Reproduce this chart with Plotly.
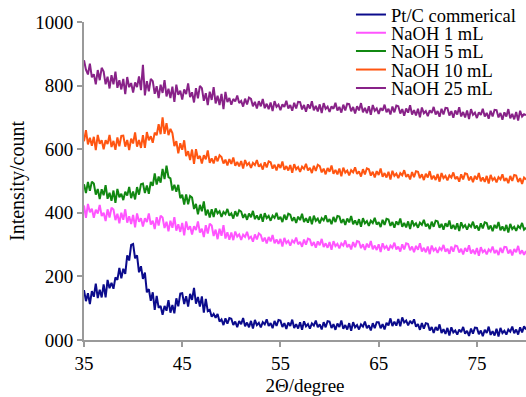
import plotly.graph_objects as go

x_start = 35.0
x_step = 0.2

pt_c = [157,122,147,113,154, 136,177,132,158,134, 175,134,189,163,180, 161,197,189,227,194,
        224,208,266,250,299, 302,257,266,213,232, 192,212,150,160,123, 150,95,139,101,107,
        79,107,92,125,86, 110,84,131,106,146, 147,113,138,105,145, 126,164,114,135,105,
        137,86,129,91,95, 73,82,70,82,58, 65,47,68,51,69, 67,47,58,40,60,
        50,69,43,55,40, 60,36,63,47,54, 40,56,49,65,44, 53,37,60,44,63,
        61,41,53,35,55, 44,64,38,50,36, 56,32,59,43,50, 36,52,45,61,40,
        49,33,56,40,59, 58,38,50,32,52, 41,61,35,47,33, 53,29,56,40,47,
        33,49,42,58,37, 46,30,53,37,56, 56,37,50,33,54, 46,68,44,58,45,
        66,43,71,55,61, 46,60,51,65,42, 50,32,53,36,53, 51,30,41,22,41,
        30,49,22,34,19, 38,14,40,24,30, 17,33,25,41,20, 29,13,36,20,39,
        38,18,30,12,32, 22,42,16,28,14, 35,11,38,22,29, 17,33,26,42,21,
        33,17,40,24,43, 33]

naoh_1 = [423,384,428,402,413, 384,410,398,425,390, 400,374,411,385,416, 410,377,397,367,400,
          378,411,369,389,365, 393,354,398,372,383, 357,383,371,398,363, 375,349,386,360,391,
          385,352,372,342,375, 353,386,344,364,340, 368,329,373,347,358, 332,358,346,373,338,
          350,324,361,335,366, 360,327,347,317,350, 328,361,319,339,315, 338,314,341,325,332,
          315,331,324,340,319, 325,309,332,316,335, 330,310,322,304,324, 310,330,304,316,302,
          318,294,321,305,312, 297,313,306,322,301, 309,293,316,300,319, 316,296,308,290,310,
          298,318,292,304,290, 308,284,311,295,302, 288,304,297,313,292, 301,285,308,292,311,
          309,289,301,283,303, 291,311,285,297,283, 301,277,304,288,295, 281,297,290,306,285,
          294,278,301,285,304, 302,282,294,276,296, 284,304,278,290,276, 294,270,297,281,288,
          274,290,283,299,278, 287,271,294,278,297, 295,275,287,269,289, 278,298,272,284,270,
          289,265,292,276,283, 269,285,278,294,273, 283,267,290,274,293, 292,272,284,266,286,
          276,296,270,282,268, 280]

naoh_5 = [490,462,497,469,498, 492,457,475,443,474, 455,487,444,463,438, 470,431,475,449,460,
          440,466,454,481,446, 467,442,481,457,490, 492,462,486,460,497, 485,524,489,514,495,
          538,506,548,512,508, 470,488,466,488,446, 457,426,458,427,453, 448,412,428,395,425,
          405,436,392,410,385, 411,387,414,398,405, 387,403,396,412,391, 398,382,405,389,408,
          404,384,396,378,398, 386,406,380,392,378, 396,372,399,383,390, 375,391,384,400,379,
          387,371,394,378,397, 394,374,386,368,388, 377,397,371,383,369, 388,364,391,375,382,
          367,383,376,392,371, 380,364,387,371,390, 388,368,380,362,382, 370,390,364,376,362,
          380,356,383,367,374, 359,375,368,384,363, 371,355,378,362,381, 379,359,371,353,373,
          362,382,356,368,354, 373,349,376,360,367, 353,369,362,378,357, 365,349,372,356,375,
          373,353,365,347,367, 356,376,350,362,348, 367,343,370,354,361, 347,363,356,372,351,
          360,344,367,351,370, 368,348,360,342,362, 351,371,345,357,343, 362,338,365,349,356,
          343,359,352,368,347, 353]

naoh_10 = [625,660,615,636,611, 639,597,645,617,628, 600,628,616,645,607, 626,598,637,609,642,
           643,608,629,597,633, 618,653,608,629,604, 644,604,654,628,641, 620,652,644,679,647,
           700,648,682,644,664, 651,610,625,587,619, 598,628,578,594,566, 599,554,600,570,579,
           555,581,568,596,557, 571,555,578,562,581, 575,555,567,549,569, 554,574,548,560,546,
           563,539,566,550,557, 541,557,550,566,545, 552,536,559,543,562, 559,539,551,533,553,
           541,561,535,547,533, 550,526,553,537,544, 529,545,538,554,533, 541,525,548,532,551,
           547,527,539,521,541, 529,549,523,535,521, 539,515,542,526,533, 518,534,527,543,522,
           530,514,537,521,540, 537,517,529,511,531, 519,539,513,525,511, 529,505,532,516,523,
           509,525,518,534,513, 521,505,528,512,531, 529,509,521,503,523, 511,531,505,517,503,
           522,498,525,509,516, 502,518,511,527,506, 514,498,521,505,524, 522,502,514,496,516,
           505,525,499,511,497, 516,492,519,503,510, 496,512,505,521,500, 509,493,516,500,519,
           517,497,509,491,511, 505]

naoh_25 = [880,850,835,869,826, 836,804,849,817,856, 844,804,828,791,833, 804,844,793,817,788,
           821,773,827,795,808, 778,810,795,829,786, 865,769,814,782,821, 814,774,798,761,803,
           777,817,766,790,761, 797,749,803,771,784, 756,788,773,807,764, 779,747,792,760,799,
           792,752,776,739,781, 755,795,744,768,739, 774,726,780,748,761, 740,758,750,769,745,
           752,734,759,741,762, 758,735,749,728,751, 735,758,729,743,726, 747,720,751,733,740,
           723,741,733,752,728, 739,721,746,728,749, 748,725,739,718,741, 728,751,722,736,719,
           741,714,745,727,734, 717,735,727,746,722, 733,715,740,722,743, 742,719,733,712,735,
           722,745,716,730,713, 735,708,739,721,728, 711,729,721,740,716, 727,709,734,716,737,
           735,712,726,705,728, 715,738,709,723,706, 727,700,731,713,720, 704,722,714,733,709,
           720,702,727,709,730, 729,706,720,699,722, 709,732,703,717,700, 722,695,726,708,715,
           698,716,708,727,703, 714,696,721,703,724, 723,700,714,693,716, 703,726,697,711,694,
           717,690,721,703,710, 707]

series_names = ["Pt/C commerical", "NaOH 1 mL", "NaOH 5 mL", "NaOH 10 mL", "NaOH 25 mL"]
series_values = [pt_c, naoh_1, naoh_5, naoh_10, naoh_25]
series_colors = ["#0b0b8c", "#ff55ff", "#118811", "#ff5511", "#882288"]

x_tick_vals = [35, 45, 55, 65, 75]
y_tick_vals = [0, 200, 400, 600, 800, 1000]
y_tick_text = ["000", "200", "400", "600", "800", "1000"]

font_family = "Liberation Serif, Times New Roman, serif"
legend_ids = ["legend", "legend2", "legend3", "legend4", "legend5"]
legend_rows_y = [1.022, 0.965, 0.907, 0.849, 0.791]

fig = go.Figure()
for name, vals, col, lid in zip(series_names, series_values, series_colors, legend_ids):
    xs = [x_start + x_step * i for i in range(len(vals))]
    fig.add_trace(go.Scatter(x=xs, y=vals, mode="lines", name=name, legend=lid,
                             line=dict(color=col, width=2)))

legend_layout = {}
for lid, ly in zip(legend_ids, legend_rows_y):
    legend_layout[lid] = dict(x=0.604, y=ly, xanchor="left", yanchor="middle",
                              bgcolor="rgba(0,0,0,0)",
                              font=dict(family=font_family, size=18.5, color="black"),
                              itemwidth=30)

fig.update_layout(
    width=526, height=397,
    margin=dict(l=84, r=0, t=22, b=57, autoexpand=False),
    paper_bgcolor="white", plot_bgcolor="white",
    font=dict(family=font_family, size=19, color="black"),
    showlegend=True,
    xaxis=dict(range=[35, 80], tickvals=x_tick_vals, showgrid=False, zeroline=False,
               showline=True, linecolor="#9a9a9a", linewidth=2,
               ticks="outside", ticklen=5, tickcolor="#9a9a9a", tickwidth=1.5,
               tickfont=dict(family=font_family, size=19),
               title=dict(text="2Θ/degree", standoff=6,
                          font=dict(family=font_family, size=19))),
    yaxis=dict(range=[0, 1000], tickvals=y_tick_vals, ticktext=y_tick_text,
               showgrid=False, zeroline=False,
               showline=True, linecolor="#9a9a9a", linewidth=2,
               ticks="outside", ticklen=5, tickcolor="#9a9a9a", tickwidth=1.5,
               tickfont=dict(family=font_family, size=19),
               title=dict(text="Intensity/count", standoff=5,
                          font=dict(family=font_family, size=20))),
    **legend_layout,
)

fig.write_html("out.html", config={"displayModeBar": False},
               post_script="document.body.style.margin='0';")
